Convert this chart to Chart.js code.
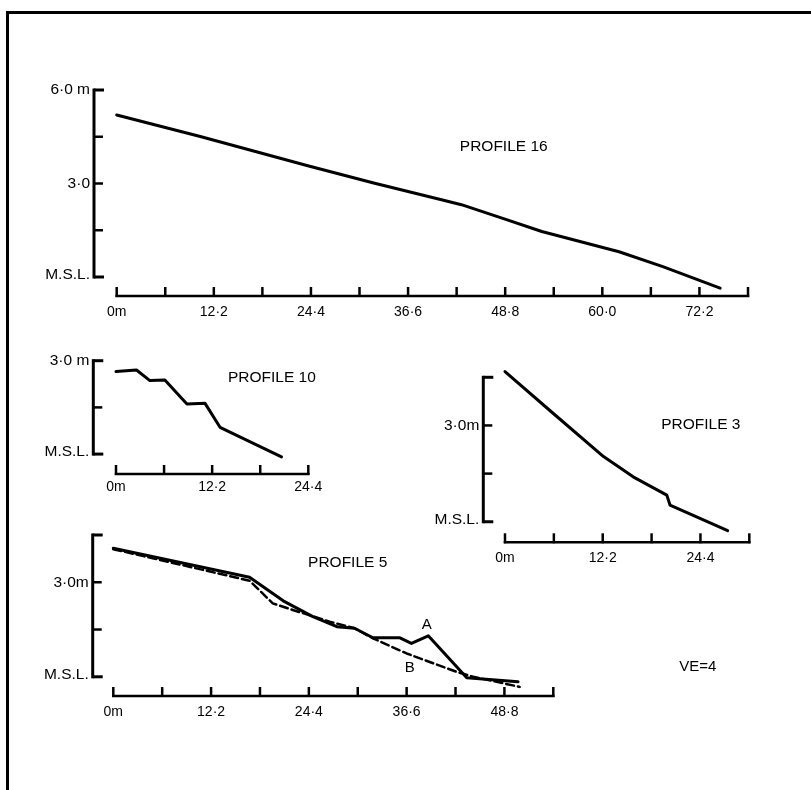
<!DOCTYPE html>
<html><head><meta charset="utf-8">
<script src="https://cdn.jsdelivr.net/npm/chart.js@4/dist/chart.umd.min.js"></script>
<style>
html,body{margin:0;padding:0;background:#fff;}
#wrap{position:relative;width:811px;height:790px;overflow:hidden;background:#fff;}
#wrap canvas{position:absolute;left:0;top:0;}
.frame-top{position:absolute;left:6px;top:11px;width:805px;height:3px;background:#000;}
.frame-left{position:absolute;left:6px;top:11px;width:3px;height:779px;background:#000;}
</style></head><body>
<div id="wrap">
<div class="frame-top"></div><div class="frame-left"></div>
<canvas id="c16" width="811" height="790"></canvas>
<canvas id="c10" width="811" height="790"></canvas>
<canvas id="c3" width="811" height="790"></canvas>
<canvas id="c5" width="811" height="790"></canvas>
</div>
<script>
// ---------- data (distance in m, elevation in m above M.S.L.) ----------
const p16Dist = [0, 10.5, 24.0, 32.4, 40.8, 43.3, 48.4, 53.4, 63.1, 68.6, 75.8];
const p16Elev = [5.20, 4.51, 3.57, 3.01, 2.48, 2.32, 1.89, 1.46, 0.81, 0.33, -0.36];

const p10Dist = [0, 2.6, 4.3, 6.2, 9.0, 11.3, 13.2, 21.0];
const p10Elev = [2.65, 2.70, 2.36, 2.38, 1.61, 1.63, 0.86, -0.09];

const p3Dist = [0, 6.0, 12.3, 16.0, 20.2, 20.6, 27.8];
const p3Elev = [4.68, 3.38, 2.03, 1.40, 0.83, 0.52, -0.28];

const p5aDist = [0, 17.0, 21.2, 24.9, 27.9, 30.1, 32.4, 35.7, 37.2, 39.3, 44.1, 50.5];
const p5aElev = [4.08, 3.16, 2.41, 1.91, 1.59, 1.54, 1.24, 1.24, 1.06, 1.30, -0.03, -0.16];
const p5bDist = [0, 17.0, 19.9, 22.4, 27.0, 30.1, 32.4, 36.6, 42.8, 44.9, 50.7];
const p5bElev = [4.05, 3.05, 2.33, 2.12, 1.75, 1.54, 1.22, 0.74, 0.16, 0.0, -0.32];

// ---------- tick labels ----------
const p16XLabelVals = [0, 12.2, 24.4, 36.6, 48.8, 61.0, 73.2];
const p16XLabels = ['0m', '12·2', '24·4', '36·6', '48·8', '60·0', '72·2'];
const p16YTicks = [6.0, 4.5, 3.0, 1.5, 0];
const p16YLabels = ['6·0 m', '', '3·0', '', 'M.S.L.'];

const p10XLabelVals = [0, 12.2, 24.4];
const p10XLabels = ['0m', '12·2', '24·4'];
const p10YTicks = [3.0, 1.5, 0];
const p10YLabels = ['3·0 m', '', 'M.S.L.'];

const p3XLabelVals = [0, 12.2, 24.4];
const p3XLabels = ['0m', '12·2', '24·4'];
const p3YTicks = [4.5, 3.0, 1.5, 0];
const p3YLabels = ['', '3·0m', '', 'M.S.L.'];

const p5XLabelVals = [0, 12.2, 24.4, 36.6, 48.8];
const p5XLabels = ['0m', '12·2', '24·4', '36·6', '48·8'];
const p5YTicks = [4.5, 3.0, 1.5, 0];
const p5YLabels = ['', '3·0m', '', 'M.S.L.'];

const X_STEP = 6.1; // one x tick = 6.1 m (20 ft)
const INK = '#000';
const FONT = '"Liberation Sans", Arial, Helvetica, sans-serif';

function stepTicks(n){ return Array.from({length:n+1},(_,i)=>Math.round(i*X_STEP*10)/10); }
function pts(d,e){ return d.map((x,i)=>({x:x,y:e[i]})); }

const axisPlugin = {
  id: 'profileAxes',
  afterDatasetsDraw(chart, args, o) {
    const ctx = chart.ctx, xs = chart.scales.x, ys = chart.scales.y, a = chart.chartArea;
    ctx.save();
    ctx.strokeStyle = INK; ctx.fillStyle = INK; ctx.lineCap = 'butt';
    // y axis (bracket)
    const ax = a.left - o.yGap;
    const yTop = ys.getPixelForValue(o.yTicks[0]);
    const yBot = ys.getPixelForValue(0);
    ctx.lineWidth = 3;
    ctx.beginPath(); ctx.moveTo(ax, yTop - 1.5); ctx.lineTo(ax, yBot + 1.5); ctx.stroke();
    o.yTicks.forEach((v, i) => {
      const py = ys.getPixelForValue(v);
      const end = (i === 0 || v === 0);
      ctx.lineWidth = end ? 3 : 2.5;
      ctx.beginPath(); ctx.moveTo(ax, py); ctx.lineTo(ax + (end ? 10 : 9), py); ctx.stroke();
      const lab = o.yLabels[i];
      if (lab) {
        ctx.font = '15.5px ' + FONT; ctx.textAlign = 'right'; ctx.textBaseline = 'middle';
        ctx.fillText(lab, ax - 4, py + (v === 0 ? -2 : 0));
      }
    });
    // x axis
    const axY = a.bottom;
    const ticks = stepTicks(o.xSteps);
    ctx.lineWidth = 2.5;
    ctx.beginPath();
    ctx.moveTo(xs.getPixelForValue(ticks[0]) - 1.25, axY);
    ctx.lineTo(xs.getPixelForValue(ticks[ticks.length - 1]) + 1.25, axY);
    ctx.stroke();
    ticks.forEach(v => {
      const px = xs.getPixelForValue(v);
      ctx.beginPath(); ctx.moveTo(px, axY + 1); ctx.lineTo(px, axY - 9); ctx.stroke();
    });
    ctx.font = '14px ' + FONT; ctx.textAlign = 'center'; ctx.textBaseline = 'middle';
    o.xLabelVals.forEach((v, i) => {
      ctx.fillText(o.xLabels[i], xs.getPixelForValue(v), axY + o.xLabelGap);
    });
    // annotations
    (o.notes || []).forEach(n => {
      ctx.font = (n.size || 15.5) + 'px ' + FONT; ctx.textAlign = n.align || 'left'; ctx.textBaseline = 'middle';
      ctx.fillText(n.text, xs.getPixelForValue(n.x), ys.getPixelForValue(n.y));
    });
    ctx.restore();
  }
};

function makeProfile(id, pad, xSteps, yMin, yMax, series, axes) {
  new Chart(document.getElementById(id), {
    type: 'line',
    data: { datasets: series.map(s => ({
      data: pts(s.dist, s.elev), borderColor: INK, borderWidth: s.width || 3,
      borderDash: s.dash || [], pointRadius: 0, tension: 0, fill: false,
      borderJoinStyle: 'round', borderCapStyle: 'round', clip: false
    })) },
    options: {
      responsive: false, animation: false, devicePixelRatio: 1,
      layout: { padding: pad },
      scales: {
        x: { type: 'linear', display: false, min: 0, max: Math.round(xSteps * X_STEP * 10) / 10 },
        y: { type: 'linear', display: false, min: yMin, max: yMax }
      },
      plugins: { legend: { display: false }, tooltip: { enabled: false },
        profileAxes: Object.assign({ xSteps: xSteps }, axes) }
    },
    plugins: [axisPlugin]
  });
}

makeProfile('c16', {left:116.7, right:63, top:90, bottom:494}, 13, -0.61, 6.0,
  [{dist:p16Dist, elev:p16Elev}],
  { yGap:22.7, yTicks:p16YTicks, yLabels:p16YLabels, xLabelVals:p16XLabelVals, xLabels:p16XLabels, xLabelGap:16,
    notes:[{text:'PROFILE 16', x:43.1, y:4.17}] });

makeProfile('c10', {left:116, right:502.7, top:360.7, bottom:316}, 4, -0.64, 3.0,
  [{dist:p10Dist, elev:p10Elev}],
  { yGap:22.7, yTicks:p10YTicks, yLabels:p10YLabels, xLabelVals:p10XLabelVals, xLabels:p10XLabels, xLabelGap:13,
    notes:[{text:'PROFILE 10', x:14.2, y:2.44}] });

makeProfile('c3', {left:505, right:61.7, top:377.3, bottom:247.7}, 5, -0.64, 4.5,
  [{dist:p3Dist, elev:p3Elev}],
  { yGap:21.7, yTicks:p3YTicks, yLabels:p3YLabels, xLabelVals:p3XLabelVals, xLabels:p3XLabels, xLabelGap:16,
    notes:[{text:'PROFILE 3', x:19.5, y:3.02}] });

makeProfile('c5', {left:113.3, right:257.7, top:535, bottom:94}, 9, -0.61, 4.5,
  [{dist:p5aDist, elev:p5aElev}, {dist:p5bDist, elev:p5bElev, dash:[8,4], width:2.5}],
  { yGap:20.6, yTicks:p5YTicks, yLabels:p5YLabels, xLabelVals:p5XLabelVals, xLabels:p5XLabels, xLabelGap:16,
    notes:[{text:'PROFILE 5', x:24.3, y:3.61},
           {text:'A', x:39.1, y:1.64, size:15, align:'center'},
           {text:'B', x:37.0, y:0.28, size:15, align:'center'},
           {text:'VE=4', x:70.6, y:0.3, size:15}] });
</script>
</body></html>
